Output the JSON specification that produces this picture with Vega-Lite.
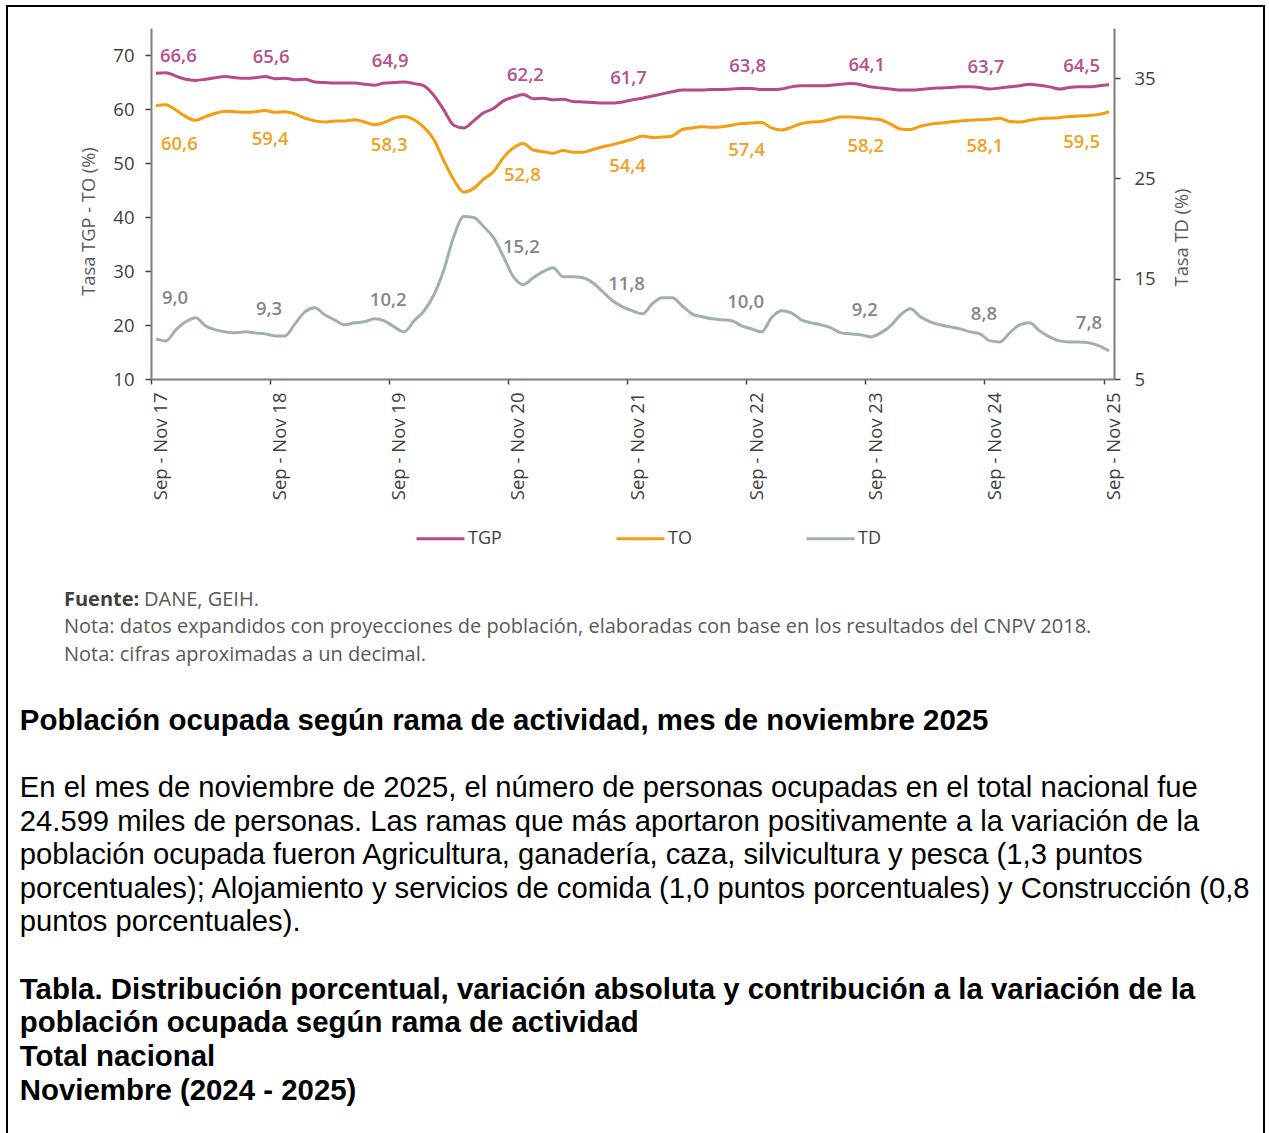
{
  "$schema": "https://vega.github.io/schema/vega-lite/v6.json",
  "padding": {"left": 6, "top": 5, "right": 0, "bottom": 0},
  "background": "#ffffff",
  "config": {
    "view": {"stroke": null},
    "locale": {"number": {"decimal": ",", "thousands": ".", "grouping": [3], "currency": ["$", ""]}},
    "axis": {
      "labelFont": "Open Sans", "titleFont": "Open Sans",
      "labelFontSize": 18.5, "titleFontSize": 18.3,
      "labelColor": "#404040", "titleColor": "#595959", "titleFontWeight": "normal",
      "domainColor": "#7f7f7f", "domainWidth": 2,
      "tickColor": "#404040", "tickWidth": 1.5, "grid": false
    },
    "text": {"font": "Open Sans", "fontSize": 18.5, "fontWeight": 600, "baseline": "middle"}
  },
  "datasets": {
    "serie": [
      {"periodo": "Sep - Nov 17", "TGP": 66.6, "TO": 60.6, "TD": 9.0},
      {"periodo": "Oct - Dic 17", "TGP": 66.7, "TO": 60.8, "TD": 8.8},
      {"periodo": "Nov 17 - Ene 18", "TGP": 66.1, "TO": 59.8, "TD": 9.9},
      {"periodo": "Dic 17 - Feb 18", "TGP": 65.5, "TO": 58.6, "TD": 10.7},
      {"periodo": "Ene - Mar 18", "TGP": 65.3, "TO": 57.9, "TD": 11.1},
      {"periodo": "Feb - Abr 18", "TGP": 65.5, "TO": 58.6, "TD": 10.3},
      {"periodo": "Mar - May 18", "TGP": 65.8, "TO": 59.2, "TD": 9.9},
      {"periodo": "Abr - Jun 18", "TGP": 66.0, "TO": 59.6, "TD": 9.7},
      {"periodo": "May - Jul 18", "TGP": 65.8, "TO": 59.5, "TD": 9.6},
      {"periodo": "Jun - Ago 18", "TGP": 65.7, "TO": 59.4, "TD": 9.7},
      {"periodo": "Jul - Sep 18", "TGP": 65.8, "TO": 59.5, "TD": 9.6},
      {"periodo": "Ago - Oct 18", "TGP": 66.0, "TO": 59.7, "TD": 9.5},
      {"periodo": "Sep - Nov 18", "TGP": 65.6, "TO": 59.4, "TD": 9.3},
      {"periodo": "Oct - Dic 18", "TGP": 65.7, "TO": 59.5, "TD": 9.3},
      {"periodo": "Nov 18 - Ene 19", "TGP": 65.4, "TO": 59.1, "TD": 10.5},
      {"periodo": "Dic 18 - Feb 19", "TGP": 65.5, "TO": 58.3, "TD": 11.7},
      {"periodo": "Ene - Mar 19", "TGP": 65.0, "TO": 57.8, "TD": 12.1},
      {"periodo": "Feb - Abr 19", "TGP": 64.9, "TO": 57.6, "TD": 11.4},
      {"periodo": "Mar - May 19", "TGP": 64.8, "TO": 57.8, "TD": 10.9},
      {"periodo": "Abr - Jun 19", "TGP": 64.8, "TO": 57.8, "TD": 10.4},
      {"periodo": "May - Jul 19", "TGP": 64.8, "TO": 58.0, "TD": 10.6},
      {"periodo": "Jun - Ago 19", "TGP": 64.6, "TO": 57.6, "TD": 10.7},
      {"periodo": "Jul - Sep 19", "TGP": 64.4, "TO": 57.1, "TD": 11.0},
      {"periodo": "Ago - Oct 19", "TGP": 64.8, "TO": 57.5, "TD": 10.8},
      {"periodo": "Sep - Nov 19", "TGP": 64.9, "TO": 58.3, "TD": 10.2},
      {"periodo": "Oct - Dic 19", "TGP": 65.0, "TO": 58.6, "TD": 9.7},
      {"periodo": "Nov 19 - Ene 20", "TGP": 64.7, "TO": 58.0, "TD": 10.8},
      {"periodo": "Dic 19 - Feb 20", "TGP": 64.3, "TO": 56.6, "TD": 11.8},
      {"periodo": "Ene - Mar 20", "TGP": 62.5, "TO": 54.3, "TD": 13.4},
      {"periodo": "Feb - Abr 20", "TGP": 59.8, "TO": 50.4, "TD": 15.9},
      {"periodo": "Mar - May 20", "TGP": 57.0, "TO": 46.9, "TD": 19.2},
      {"periodo": "Abr - Jun 20", "TGP": 56.5, "TO": 44.6, "TD": 21.2},
      {"periodo": "May - Jul 20", "TGP": 57.8, "TO": 45.3, "TD": 21.1},
      {"periodo": "Jun - Ago 20", "TGP": 59.3, "TO": 47.0, "TD": 20.2},
      {"periodo": "Jul - Sep 20", "TGP": 60.1, "TO": 48.4, "TD": 19.1},
      {"periodo": "Ago - Oct 20", "TGP": 61.5, "TO": 51.0, "TD": 17.2},
      {"periodo": "Sep - Nov 20", "TGP": 62.2, "TO": 52.8, "TD": 15.2},
      {"periodo": "Oct - Dic 20", "TGP": 62.7, "TO": 53.6, "TD": 14.4},
      {"periodo": "Nov 20 - Ene 21", "TGP": 61.9, "TO": 52.4, "TD": 15.1},
      {"periodo": "Dic 20 - Feb 21", "TGP": 62.0, "TO": 52.1, "TD": 15.7},
      {"periodo": "Ene - Mar 21", "TGP": 61.7, "TO": 51.8, "TD": 16.1},
      {"periodo": "Feb - Abr 21", "TGP": 61.8, "TO": 52.3, "TD": 15.2},
      {"periodo": "Mar - May 21", "TGP": 61.4, "TO": 52.0, "TD": 15.2},
      {"periodo": "Abr - Jun 21", "TGP": 61.3, "TO": 52.0, "TD": 15.1},
      {"periodo": "May - Jul 21", "TGP": 61.2, "TO": 52.5, "TD": 14.6},
      {"periodo": "Jun - Ago 21", "TGP": 61.1, "TO": 53.0, "TD": 13.7},
      {"periodo": "Jul - Sep 21", "TGP": 61.1, "TO": 53.4, "TD": 12.8},
      {"periodo": "Ago - Oct 21", "TGP": 61.3, "TO": 53.9, "TD": 12.2},
      {"periodo": "Sep - Nov 21", "TGP": 61.7, "TO": 54.4, "TD": 11.8},
      {"periodo": "Oct - Dic 21", "TGP": 62.0, "TO": 55.0, "TD": 11.5},
      {"periodo": "Nov 21 - Ene 22", "TGP": 62.4, "TO": 54.7, "TD": 12.5},
      {"periodo": "Dic 21 - Feb 22", "TGP": 62.8, "TO": 54.8, "TD": 13.1},
      {"periodo": "Ene - Mar 22", "TGP": 63.2, "TO": 55.0, "TD": 13.1},
      {"periodo": "Feb - Abr 22", "TGP": 63.5, "TO": 56.2, "TD": 12.3},
      {"periodo": "Mar - May 22", "TGP": 63.5, "TO": 56.5, "TD": 11.5},
      {"periodo": "Abr - Jun 22", "TGP": 63.5, "TO": 56.7, "TD": 11.2},
      {"periodo": "May - Jul 22", "TGP": 63.6, "TO": 56.6, "TD": 11.0},
      {"periodo": "Jun - Ago 22", "TGP": 63.6, "TO": 56.7, "TD": 10.9},
      {"periodo": "Jul - Sep 22", "TGP": 63.7, "TO": 57.0, "TD": 10.8},
      {"periodo": "Ago - Oct 22", "TGP": 63.8, "TO": 57.3, "TD": 10.3},
      {"periodo": "Sep - Nov 22", "TGP": 63.8, "TO": 57.4, "TD": 10.0},
      {"periodo": "Oct - Dic 22", "TGP": 63.6, "TO": 57.5, "TD": 9.7},
      {"periodo": "Nov 22 - Ene 23", "TGP": 63.6, "TO": 56.5, "TD": 11.1},
      {"periodo": "Dic 22 - Feb 23", "TGP": 63.7, "TO": 56.1, "TD": 11.8},
      {"periodo": "Ene - Mar 23", "TGP": 64.1, "TO": 56.6, "TD": 11.6},
      {"periodo": "Feb - Abr 23", "TGP": 64.3, "TO": 57.3, "TD": 10.9},
      {"periodo": "Mar - May 23", "TGP": 64.3, "TO": 57.6, "TD": 10.6},
      {"periodo": "Abr - Jun 23", "TGP": 64.3, "TO": 57.7, "TD": 10.4},
      {"periodo": "May - Jul 23", "TGP": 64.4, "TO": 58.1, "TD": 10.1},
      {"periodo": "Jun - Ago 23", "TGP": 64.6, "TO": 58.5, "TD": 9.6},
      {"periodo": "Jul - Sep 23", "TGP": 64.7, "TO": 58.5, "TD": 9.5},
      {"periodo": "Ago - Oct 23", "TGP": 64.5, "TO": 58.4, "TD": 9.4},
      {"periodo": "Sep - Nov 23", "TGP": 64.1, "TO": 58.2, "TD": 9.2},
      {"periodo": "Oct - Dic 23", "TGP": 63.9, "TO": 58.0, "TD": 9.6},
      {"periodo": "Nov 23 - Ene 24", "TGP": 63.7, "TO": 57.2, "TD": 10.3},
      {"periodo": "Dic 23 - Feb 24", "TGP": 63.5, "TO": 56.3, "TD": 11.4},
      {"periodo": "Ene - Mar 24", "TGP": 63.5, "TO": 56.2, "TD": 12.0},
      {"periodo": "Feb - Abr 24", "TGP": 63.6, "TO": 56.8, "TD": 11.2},
      {"periodo": "Mar - May 24", "TGP": 63.8, "TO": 57.2, "TD": 10.7},
      {"periodo": "Abr - Jun 24", "TGP": 63.9, "TO": 57.4, "TD": 10.4},
      {"periodo": "May - Jul 24", "TGP": 64.0, "TO": 57.6, "TD": 10.2},
      {"periodo": "Jun - Ago 24", "TGP": 64.1, "TO": 57.8, "TD": 10.0},
      {"periodo": "Jul - Sep 24", "TGP": 64.1, "TO": 57.9, "TD": 9.7},
      {"periodo": "Ago - Oct 24", "TGP": 64.0, "TO": 58.0, "TD": 9.5},
      {"periodo": "Sep - Nov 24", "TGP": 63.7, "TO": 58.1, "TD": 8.8},
      {"periodo": "Oct - Dic 24", "TGP": 63.9, "TO": 58.3, "TD": 8.7},
      {"periodo": "Nov 24 - Ene 25", "TGP": 64.1, "TO": 57.7, "TD": 9.6},
      {"periodo": "Dic 24 - Feb 25", "TGP": 64.3, "TO": 57.6, "TD": 10.4},
      {"periodo": "Ene - Mar 25", "TGP": 64.6, "TO": 57.9, "TD": 10.6},
      {"periodo": "Feb - Abr 25", "TGP": 64.4, "TO": 58.2, "TD": 9.8},
      {"periodo": "Mar - May 25", "TGP": 64.1, "TO": 58.3, "TD": 9.2},
      {"periodo": "Abr - Jun 25", "TGP": 63.7, "TO": 58.4, "TD": 8.8},
      {"periodo": "May - Jul 25", "TGP": 64.0, "TO": 58.6, "TD": 8.7},
      {"periodo": "Jun - Ago 25", "TGP": 64.1, "TO": 58.7, "TD": 8.7},
      {"periodo": "Jul - Sep 25", "TGP": 64.1, "TO": 58.8, "TD": 8.6},
      {"periodo": "Ago - Oct 25", "TGP": 64.3, "TO": 59.0, "TD": 8.3},
      {"periodo": "Sep - Nov 25", "TGP": 64.5, "TO": 59.5, "TD": 7.8}
    ],
    "notas": [
      {"linea": 1, "etiqueta": "Fuente:", "texto": "DANE, GEIH."},
      {"linea": 2, "texto": "Nota: datos expandidos con proyecciones de población, elaboradas con base en los resultados del CNPV 2018."},
      {"linea": 3, "texto": "Nota: cifras aproximadas a un decimal."}
    ],
    "cuerpo": [
      {"linea": 1, "tipo": "titulo", "texto": "Población ocupada según rama de actividad, mes de noviembre 2025"},
      {"linea": 3, "tipo": "parrafo", "texto": "En el mes de noviembre de 2025, el número de personas ocupadas en el total nacional fue"},
      {"linea": 4, "tipo": "parrafo", "texto": "24.599 miles de personas. Las ramas que más aportaron positivamente a la variación de la"},
      {"linea": 5, "tipo": "parrafo", "texto": "población ocupada fueron Agricultura, ganadería, caza, silvicultura y pesca (1,3 puntos"},
      {"linea": 6, "tipo": "parrafo", "texto": "porcentuales); Alojamiento y servicios de comida (1,0 puntos porcentuales) y Construcción (0,8"},
      {"linea": 7, "tipo": "parrafo", "texto": "puntos porcentuales)."},
      {"linea": 9, "tipo": "titulo", "texto": "Tabla. Distribución porcentual, variación absoluta y contribución a la variación de la"},
      {"linea": 10, "tipo": "titulo", "texto": "población ocupada según rama de actividad"},
      {"linea": 11, "tipo": "titulo", "texto": "Total nacional"},
      {"linea": 12, "tipo": "titulo", "texto": "Noviembre (2024 - 2025)"}
    ]
  },
  "spacing": 0,
  "hconcat": [
    {
      "width": 2, "height": 1128,
      "view": {"fill": "#000000", "stroke": null},
      "data": {"values": []},
      "mark": "rule",
      "encoding": {}
    },
    {
      "spacing": 34.4,
      "center": true,
      "vconcat": [
        {
          "spacing": 21,
          "vconcat": [
            {
              "width": 1255, "height": 2,
              "view": {"fill": "#000000", "stroke": null},
              "data": {"values": []},
              "mark": "rule",
              "encoding": {}
            },
            {
              "spacing": 0,
              "bounds": "flush",
              "hconcat": [
                {
                  "width": 143, "height": 351,
                  "data": {"values": []},
                  "mark": "rule",
                  "encoding": {}
                },
                {
                  "width": 963, "height": 351,
                  "data": {"name": "serie"},
                  "layer": [
                    {
                      "layer": [
                        {
                          "transform": [{"fold": ["TGP", "TO"], "as": ["serie", "valor"]}],
                          "mark": {"type": "line", "strokeWidth": 3, "interpolate": "monotone"},
                          "encoding": {
                            "x": {
                              "field": "periodo", "type": "ordinal", "sort": null,
                              "scale": {"type": "band", "paddingInner": 0, "paddingOuter": 0},
                              "axis": {
                                "title": null,
                                "values": ["Sep - Nov 17", "Sep - Nov 18", "Sep - Nov 19", "Sep - Nov 20", "Sep - Nov 21", "Sep - Nov 22", "Sep - Nov 23", "Sep - Nov 24", "Sep - Nov 25"],
                                "labelAngle": -90, "tickSize": 5, "labelPadding": 8,
                                "bandPosition": 0, "labelOffset": 5
                              }
                            },
                            "y": {
                              "field": "valor", "type": "quantitative",
                              "scale": {"domain": [10, 75], "nice": false, "zero": false},
                              "axis": {
                                "title": "Tasa TGP - TO (%)",
                                "values": [10, 20, 30, 40, 50, 60, 70],
                                "tickSize": 6, "labelPadding": 11, "titlePadding": 14, "titleY": 193
                              }
                            },
                            "color": {
                              "field": "serie", "type": "nominal",
                              "scale": {"domain": ["TGP", "TO", "TD"], "range": ["#b94a89", "#f59d0e", "#9fb0ad"]},
                              "legend": {
                                "title": null, "orient": "none", "legendX": 409, "legendY": 508,
                                "direction": "horizontal", "symbolType": "stroke", "symbolSize": 2304,
                                "symbolStrokeWidth": 3, "labelFont": "Open Sans", "labelFontSize": 18,
                                "labelColor": "#404040", "labelOffset": 2, "columnPadding": 108, "padding": 0
                              }
                            },
                            "order": {"value": null}
                          }
                        },
                        {
                          "transform": [{"filter": "datum.periodo == 'Sep - Nov 17'"}],
                          "mark": {"type": "text", "align": "left", "dx": 4, "dy": -17, "color": "#b8508e"},
                          "encoding": {
                            "x": {"field": "periodo", "type": "ordinal", "sort": null},
                            "y": {"field": "TGP", "type": "quantitative", "scale": {"domain": [10, 75], "nice": false, "zero": false}},
                            "text": {"field": "TGP", "type": "quantitative", "format": ".1f"}
                          }
                        },
                        {
                          "transform": [{"filter": "datum.periodo == 'Sep - Nov 20'"}],
                          "mark": {"type": "text", "align": "center", "dx": 12, "dy": -22, "color": "#b8508e"},
                          "encoding": {
                            "x": {"field": "periodo", "type": "ordinal", "sort": null},
                            "y": {"field": "TGP", "type": "quantitative", "scale": {"domain": [10, 75], "nice": false, "zero": false}},
                            "text": {"field": "TGP", "type": "quantitative", "format": ".1f"}
                          }
                        },
                        {
                          "transform": [{"filter": "indexof(datum.periodo, 'Sep - Nov') == 0 && datum.periodo != 'Sep - Nov 17' && datum.periodo != 'Sep - Nov 20' && datum.periodo != 'Sep - Nov 25'"}],
                          "mark": {"type": "text", "align": "center", "dx": -4, "dy": -22, "color": "#b8508e"},
                          "encoding": {
                            "x": {"field": "periodo", "type": "ordinal", "sort": null},
                            "y": {"field": "TGP", "type": "quantitative", "scale": {"domain": [10, 75], "nice": false, "zero": false}},
                            "text": {"field": "TGP", "type": "quantitative", "format": ".1f"}
                          }
                        },
                        {
                          "transform": [{"filter": "datum.periodo == 'Sep - Nov 25'"}],
                          "mark": {"type": "text", "align": "right", "dx": -9, "dy": -19, "color": "#b8508e"},
                          "encoding": {
                            "x": {"field": "periodo", "type": "ordinal", "sort": null},
                            "y": {"field": "TGP", "type": "quantitative", "scale": {"domain": [10, 75], "nice": false, "zero": false}},
                            "text": {"field": "TGP", "type": "quantitative", "format": ".1f"}
                          }
                        },
                        {
                          "transform": [{"filter": "datum.periodo == 'Sep - Nov 17'"}],
                          "mark": {"type": "text", "align": "left", "dx": 5, "dy": 38, "color": "#f2a023"},
                          "encoding": {
                            "x": {"field": "periodo", "type": "ordinal", "sort": null},
                            "y": {"field": "TO", "type": "quantitative", "scale": {"domain": [10, 75], "nice": false, "zero": false}},
                            "text": {"field": "TO", "type": "quantitative", "format": ".1f"}
                          }
                        },
                        {
                          "transform": [{"filter": "datum.periodo == 'Sep - Nov 20'"}],
                          "mark": {"type": "text", "align": "center", "dx": 9, "dy": 27, "color": "#f2a023"},
                          "encoding": {
                            "x": {"field": "periodo", "type": "ordinal", "sort": null},
                            "y": {"field": "TO", "type": "quantitative", "scale": {"domain": [10, 75], "nice": false, "zero": false}},
                            "text": {"field": "TO", "type": "quantitative", "format": ".1f"}
                          }
                        },
                        {
                          "transform": [{"filter": "indexof(datum.periodo, 'Sep - Nov') == 0 && datum.periodo != 'Sep - Nov 17' && datum.periodo != 'Sep - Nov 20' && datum.periodo != 'Sep - Nov 25'"}],
                          "mark": {"type": "text", "align": "center", "dx": -5, "dy": 27, "color": "#f2a023"},
                          "encoding": {
                            "x": {"field": "periodo", "type": "ordinal", "sort": null},
                            "y": {"field": "TO", "type": "quantitative", "scale": {"domain": [10, 75], "nice": false, "zero": false}},
                            "text": {"field": "TO", "type": "quantitative", "format": ".1f"}
                          }
                        },
                        {
                          "transform": [{"filter": "datum.periodo == 'Sep - Nov 25'"}],
                          "mark": {"type": "text", "align": "right", "dx": -9, "dy": 30, "color": "#f2a023"},
                          "encoding": {
                            "x": {"field": "periodo", "type": "ordinal", "sort": null},
                            "y": {"field": "TO", "type": "quantitative", "scale": {"domain": [10, 75], "nice": false, "zero": false}},
                            "text": {"field": "TO", "type": "quantitative", "format": ".1f"}
                          }
                        }
                      ]
                    },
                    {
                      "layer": [
                        {
                          "mark": {"type": "line", "strokeWidth": 3, "interpolate": "monotone"},
                          "encoding": {
                            "x": {"field": "periodo", "type": "ordinal", "sort": null},
                            "y": {
                              "field": "TD", "type": "quantitative",
                              "scale": {"domain": [5, 40], "nice": false, "zero": false},
                              "axis": {
                                "orient": "right", "title": "Tasa TD (%)",
                                "values": [5, 15, 25, 35],
                                "tickSize": 6, "labelPadding": 14, "titlePadding": 18,
                                "titleAngle": 270, "titleBaseline": "top", "titleY": 209
                              }
                            },
                            "color": {"datum": "TD"},
                            "order": {"value": null}
                          }
                        },
                        {
                          "transform": [{"filter": "datum.periodo == 'Sep - Nov 17'"}],
                          "mark": {"type": "text", "align": "left", "dx": 6, "dy": -41, "color": "#868686"},
                          "encoding": {
                            "x": {"field": "periodo", "type": "ordinal", "sort": null},
                            "y": {"field": "TD", "type": "quantitative", "scale": {"domain": [5, 40], "nice": false, "zero": false}},
                            "text": {"field": "TD", "type": "quantitative", "format": ".1f"}
                          }
                        },
                        {
                          "transform": [{"filter": "datum.periodo == 'Sep - Nov 20'"}],
                          "mark": {"type": "text", "align": "center", "dx": 8, "dy": -30, "color": "#868686"},
                          "encoding": {
                            "x": {"field": "periodo", "type": "ordinal", "sort": null},
                            "y": {"field": "TD", "type": "quantitative", "scale": {"domain": [5, 40], "nice": false, "zero": false}},
                            "text": {"field": "TD", "type": "quantitative", "format": ".1f"}
                          }
                        },
                        {
                          "transform": [{"filter": "indexof(datum.periodo, 'Sep - Nov') == 0 && datum.periodo != 'Sep - Nov 17' && datum.periodo != 'Sep - Nov 20' && datum.periodo != 'Sep - Nov 25'"}],
                          "mark": {"type": "text", "align": "center", "dx": -6, "dy": -27, "color": "#868686"},
                          "encoding": {
                            "x": {"field": "periodo", "type": "ordinal", "sort": null},
                            "y": {"field": "TD", "type": "quantitative", "scale": {"domain": [5, 40], "nice": false, "zero": false}},
                            "text": {"field": "TD", "type": "quantitative", "format": ".1f"}
                          }
                        },
                        {
                          "transform": [{"filter": "datum.periodo == 'Sep - Nov 25'"}],
                          "mark": {"type": "text", "align": "right", "dx": -7, "dy": -28, "color": "#868686"},
                          "encoding": {
                            "x": {"field": "periodo", "type": "ordinal", "sort": null},
                            "y": {"field": "TD", "type": "quantitative", "scale": {"domain": [5, 40], "nice": false, "zero": false}},
                            "text": {"field": "TD", "type": "quantitative", "format": ".1f"}
                          }
                        }
                      ]
                    }
                  ],
                  "resolve": {"scale": {"y": "independent"}}
                }
              ]
            }
          ]
        },
        {
          "width": 1143, "height": 134.4,
          "data": {"name": "notas"},
          "encoding": {
            "x": {"datum": 0, "type": "quantitative", "scale": {"domain": [0, 1], "nice": false, "zero": false}, "axis": null},
            "y": {"field": "linea", "type": "quantitative", "scale": {"domain": [-1.385, 3.502], "reverse": true, "nice": false, "zero": false}, "axis": null}
          },
          "layer": [
            {
              "transform": [{"filter": "isValid(datum.etiqueta)"}],
              "mark": {"type": "text", "align": "left", "font": "Open Sans", "fontSize": 20, "fontWeight": "bold", "color": "#404040"},
              "encoding": {"text": {"field": "etiqueta"}}
            },
            {
              "transform": [{"filter": "isValid(datum.etiqueta)"}],
              "mark": {"type": "text", "align": "left", "dx": 80, "font": "Open Sans", "fontSize": 20, "fontWeight": "normal", "color": "#595959"},
              "encoding": {"text": {"field": "texto"}}
            },
            {
              "transform": [{"filter": "!isValid(datum.etiqueta)"}],
              "mark": {"type": "text", "align": "left", "font": "Open Sans", "fontSize": 20, "fontWeight": "normal", "color": "#595959"},
              "encoding": {"text": {"field": "texto"}}
            }
          ]
        },
        {
          "width": 1227, "height": 403.7,
          "data": {"name": "cuerpo"},
          "encoding": {
            "x": {"datum": 0, "type": "quantitative", "scale": {"domain": [0, 1], "nice": false, "zero": false}, "axis": null},
            "y": {"field": "linea", "type": "quantitative", "scale": {"domain": [0.5, 12.5], "reverse": true, "nice": false, "zero": false}, "axis": null}
          },
          "layer": [
            {
              "transform": [{"filter": "datum.tipo == 'titulo'"}],
              "mark": {"type": "text", "align": "left", "font": "Liberation Sans", "fontSize": 29.4, "fontWeight": "bold", "color": "#000000"},
              "encoding": {"text": {"field": "texto"}}
            },
            {
              "transform": [{"filter": "datum.tipo == 'parrafo'"}],
              "mark": {"type": "text", "align": "left", "font": "Liberation Sans", "fontSize": 29.2, "fontWeight": "normal", "color": "#000000"},
              "encoding": {"text": {"field": "texto"}}
            }
          ]
        }
      ]
    },
    {
      "width": 2, "height": 1128,
      "view": {"fill": "#000000", "stroke": null},
      "data": {"values": []},
      "mark": "rule",
      "encoding": {}
    }
  ]
}
